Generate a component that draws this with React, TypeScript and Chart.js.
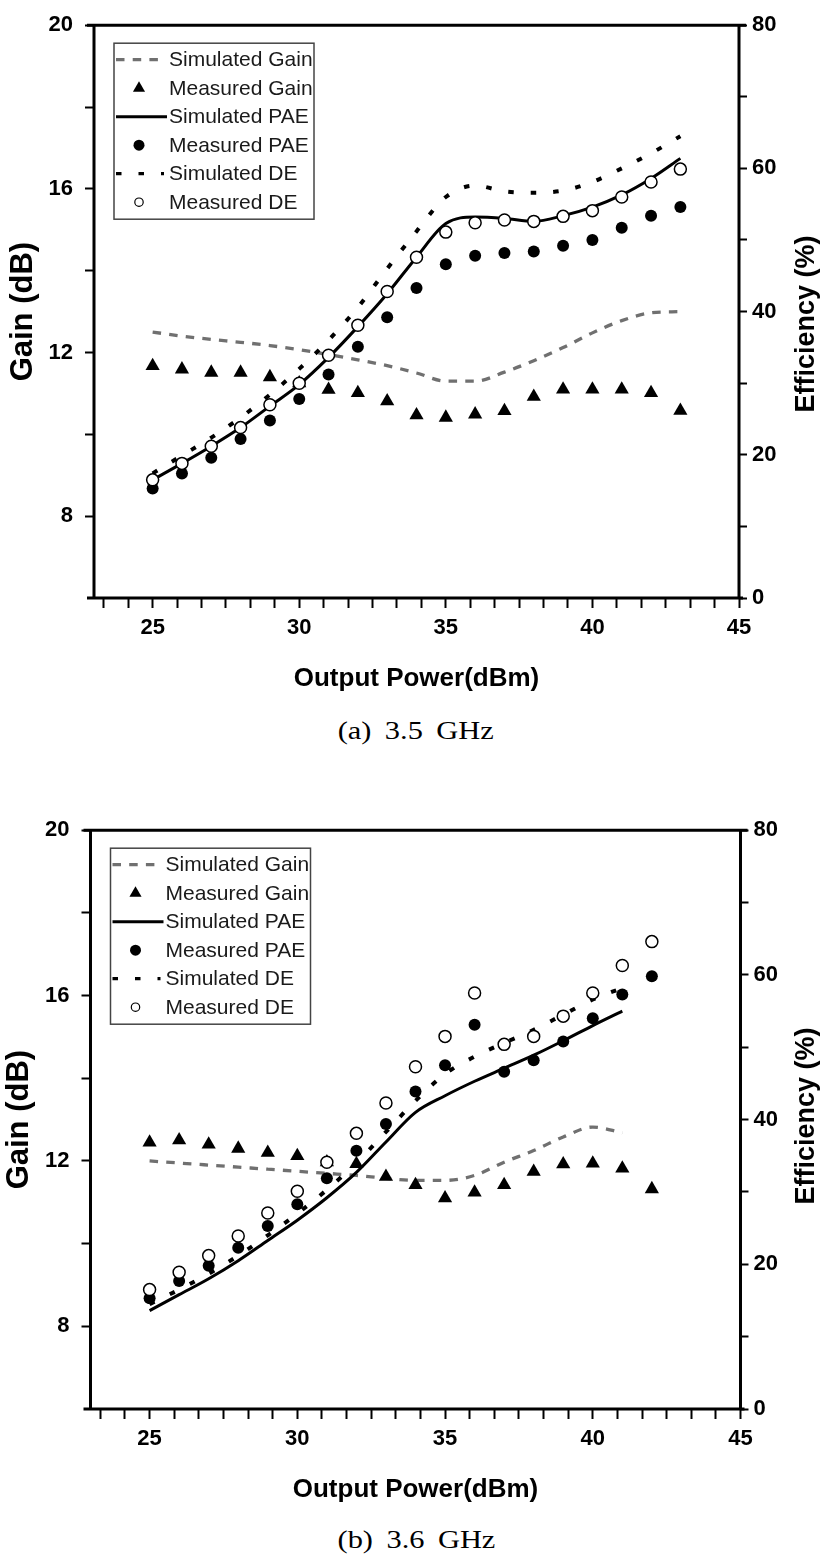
import React, { useEffect, useRef } from 'react';
import { Chart, registerables } from 'chart.js';

Chart.register(...registerables);

// ---------- (a) 3.5 GHz ----------
const powerA = [25, 26, 27, 28, 29, 30, 31, 32, 33, 34, 35, 36, 37, 38, 39, 40, 41, 42, 43];
const simGainA = [12.5, 12.4, 12.32, 12.25, 12.17, 12.07, 11.95, 11.82, 11.68, 11.5, 11.3, 11.3, 11.52, 11.8, 12.12, 12.48, 12.78, 12.97, 13.0];
const measGainA = [11.67, 11.59, 11.51, 11.51, 11.4, 11.25, 11.09, 11.01, 10.81, 10.47, 10.41, 10.49, 10.57, 10.92, 11.1, 11.1, 11.1, 11.01, 10.58];
const simPaeA = [16.5, 18.8, 21.2, 23.8, 26.8, 29.8, 33.6, 37.9, 42.5, 47.6, 52.3, 53.2, 53.0, 52.6, 53.4, 54.6, 56.3, 58.6, 61.4];
const measPaeA = [15.3, 17.4, 19.6, 22.2, 24.8, 27.8, 31.2, 35.1, 39.2, 43.3, 46.6, 47.8, 48.2, 48.4, 49.2, 50.0, 51.7, 53.4, 54.6];
const simDeA = [17.4, 19.9, 22.4, 25.2, 28.4, 32.0, 36.0, 40.6, 46.0, 51.2, 56.0, 57.6, 56.8, 56.6, 56.9, 58.1, 60.0, 62.1, 64.5];
const measDeA = [16.5, 18.8, 21.2, 23.8, 27.0, 30.0, 33.9, 38.1, 42.8, 47.6, 51.1, 52.4, 52.8, 52.6, 53.3, 54.1, 56.0, 58.1, 59.9];

// ---------- (b) 3.6 GHz ----------
const powerB = [25, 26, 27, 28, 29, 30, 31, 32, 33, 34, 35, 36, 37, 38, 39, 40, 41, 42];
const simPowerB = [25, 26, 27, 28, 29, 30, 31, 32, 33, 34, 35, 36, 37, 38, 39, 40, 41];
const simGainB = [12.0, 11.95, 11.9, 11.85, 11.8, 11.75, 11.7, 11.65, 11.58, 11.53, 11.53, 11.65, 11.97, 12.25, 12.58, 12.82, 12.68];
const measGainB = [12.45, 12.5, 12.4, 12.3, 12.2, 12.12, 11.97, 11.93, 11.62, 11.42, 11.1, 11.24, 11.42, 11.74, 11.92, 11.94, 11.82, 11.32];
const simPaeB = [13.6, 15.8, 18.0, 20.5, 23.3, 26.1, 29.2, 32.7, 36.9, 41.0, 43.3, 45.3, 47.1, 48.9, 50.9, 53.0, 55.0];
const measPaeB = [15.3, 17.7, 19.8, 22.3, 25.3, 28.3, 31.9, 35.7, 39.4, 43.9, 47.5, 53.1, 46.6, 48.2, 50.8, 54.0, 57.3, 59.8];
const simDeB = [14.5, 16.5, 18.7, 21.2, 24.0, 27.0, 30.3, 34.0, 38.3, 42.6, 46.3, 48.7, 50.6, 52.4, 54.5, 56.6, 58.2];
const measDeB = [16.5, 18.9, 21.2, 23.9, 27.1, 30.1, 34.1, 38.1, 42.3, 47.3, 51.5, 57.5, 50.4, 51.5, 54.3, 57.5, 61.3, 64.6];

// ---------- labels / ticks ----------
const seriesLabels = ['Simulated Gain', 'Measured Gain', 'Simulated PAE', 'Measured PAE', 'Simulated DE', 'Measured DE'];
const xMajorTicks = [25, 30, 35, 40, 45];
const xMinorPerMajor = 5;
const gainTicks = [8, 10, 12, 14, 16, 18, 20];
const gainLabels = [8, 12, 16, 20];
const effTicks = [0, 10, 20, 30, 40, 50, 60, 70, 80];
const effLabels = [0, 20, 40, 60, 80];

const SANS = "'Liberation Sans', Arial, Helvetica, sans-serif";
const SERIF = "'Liberation Serif', 'Times New Roman', serif";
const GRAY = '#707070';
const W = 827;

const xTickValues: number[] = (() => {
  const step = 5 / (xMinorPerMajor + 1);
  const out: number[] = [];
  for (let k = -2; k <= 24; k++) out.push(xMajorTicks[0] + k * step);
  return out;
})();

const pts = (xs: number[], ys: number[]) => ys.map((y, i) => ({ x: xs[i], y }));

function buildDatasets(power: number[], simPower: number[], sg: number[], mg: number[], sp: number[], mp: number[], sd: number[], md: number[]) {
  return [
    { label: seriesLabels[0], data: pts(simPower, sg), yAxisID: 'y', borderColor: GRAY, borderWidth: 3.3, borderDash: [8.5, 8.2], pointRadius: 0, showLine: true, cubicInterpolationMode: 'monotone', fill: false, order: 5 },
    { label: seriesLabels[1], data: pts(power, mg), yAxisID: 'y', showLine: false, pointStyle: 'triangle', pointRadius: 8.2, backgroundColor: '#000', borderColor: '#000', borderWidth: 0, order: 2 },
    { label: seriesLabels[2], data: pts(simPower, sp), yAxisID: 'y1', borderColor: '#000', borderWidth: 3, pointRadius: 0, showLine: true, cubicInterpolationMode: 'monotone', fill: false, order: 3 },
    { label: seriesLabels[3], data: pts(power, mp), yAxisID: 'y1', showLine: false, pointStyle: 'circle', pointRadius: 6, backgroundColor: '#000', borderColor: '#000', borderWidth: 0, order: 1 },
    { label: seriesLabels[4], data: pts(simPower, sd), yAxisID: 'y1', borderColor: '#000', borderWidth: 4, borderDash: [5.5, 17], pointRadius: 0, showLine: true, cubicInterpolationMode: 'monotone', fill: false, order: 4 },
    { label: seriesLabels[5], data: pts(power, md), yAxisID: 'y1', showLine: false, pointStyle: 'circle', pointRadius: 6, backgroundColor: '#fff', borderColor: '#000', borderWidth: 1.5, order: 0 },
  ];
}

type Area = { left: number; right: number; top: number; bottom: number };
type PanelProps = {
  top: number;
  height: number;
  area: Area;
  gainTitlePad: number;
  effTitleX: number;
  effTitleY: number;
  datasets: any[];
};

function Panel({ top, height, area, gainTitlePad, effTitleX, effTitleY, datasets }: PanelProps) {
  const ref = useRef<HTMLCanvasElement>(null);
  useEffect(() => {
    const canvas = ref.current;
    if (!canvas) return;
    const tickFont = { family: SANS, size: 22, weight: 'bold' as const };

    const overlay = {
      id: 'overlay',
      afterDraw(chart: any) {
        const ctx = chart.ctx as CanvasRenderingContext2D;
        const ca = chart.chartArea;
        // frame
        ctx.save();
        ctx.strokeStyle = '#000';
        ctx.lineWidth = 3;
        ctx.setLineDash([]);
        ctx.beginPath();
        ctx.moveTo(ca.left - 7, ca.top);
        ctx.lineTo(ca.right + 7, ca.top);
        ctx.moveTo(ca.left - 7, ca.bottom);
        ctx.lineTo(ca.right + 4, ca.bottom);
        ctx.moveTo(ca.left, ca.top);
        ctx.lineTo(ca.left, ca.bottom);
        ctx.moveTo(ca.right, ca.top);
        ctx.lineTo(ca.right, ca.bottom);
        ctx.stroke();

        // legend
        const bx = ca.left + 20;
        const by = ca.top + 18;
        const bw = 200;
        const bh = 176;
        ctx.fillStyle = '#fff';
        ctx.fillRect(bx, by, bw, bh);
        ctx.strokeStyle = '#444';
        ctx.lineWidth = 1.5;
        ctx.strokeRect(bx, by, bw, bh);
        const dsets = chart.data.datasets;
        dsets.forEach((ds: any, i: number) => {
          const ry = by + 16.5 + i * 28.5;
          const cx = bx + 25;
          ctx.save();
          if (ds.showLine) {
            ctx.strokeStyle = ds.borderColor;
            ctx.lineWidth = Math.min(ds.borderWidth, 3.3);
            ctx.setLineDash(ds.borderDash || []);
            ctx.beginPath();
            ctx.moveTo(bx + 2, ry);
            ctx.lineTo(bx + (ds.borderDash ? 50 : 53), ry);
            ctx.stroke();
          } else if (ds.pointStyle === 'triangle') {
            const r = 7;
            ctx.fillStyle = ds.backgroundColor;
            ctx.beginPath();
            ctx.moveTo(cx, ry - r);
            ctx.lineTo(cx + r * 0.866, ry + r * 0.5);
            ctx.lineTo(cx - r * 0.866, ry + r * 0.5);
            ctx.closePath();
            ctx.fill();
          } else {
            const filled = ds.backgroundColor === '#000';
            ctx.beginPath();
            ctx.arc(cx, ry, filled ? 5.5 : 4.2, 0, Math.PI * 2);
            if (filled) {
              ctx.fillStyle = '#000';
              ctx.fill();
            } else {
              ctx.fillStyle = '#fff';
              ctx.fill();
              ctx.strokeStyle = '#000';
              ctx.lineWidth = 1.2;
              ctx.stroke();
            }
          }
          ctx.restore();
          ctx.fillStyle = '#1a1a1a';
          ctx.font = `21px ${SANS}`;
          ctx.textAlign = 'left';
          ctx.textBaseline = 'middle';
          ctx.fillText(ds.label, bx + 55, ry + 1);
        });

        // right axis title
        ctx.translate(effTitleX, effTitleY);
        ctx.rotate(-Math.PI / 2);
        ctx.fillStyle = '#000';
        ctx.font = `bold 27px ${SANS}`;
        ctx.textAlign = 'center';
        ctx.textBaseline = 'middle';
        ctx.fillText('Efficiency (%)', 0, 0);
        ctx.restore();
      },
    };

    const isMajorX = (v: number) => xMajorTicks.some((m) => Math.abs(m - v) < 1e-6);

    const chart = new Chart(canvas, {
      type: 'line',
      data: { datasets: datasets as any },
      options: {
        animation: false,
        responsive: false,
        maintainAspectRatio: false,
        events: [],
        layout: { padding: { top: area.top, left: 0, right: 0, bottom: 0 } },
        plugins: { legend: { display: false }, tooltip: { enabled: false }, title: { display: false } },
        scales: {
          x: {
            type: 'linear',
            min: 23,
            max: 45,
            afterBuildTicks: (s: any) => {
              s.ticks = xTickValues.map((v) => ({ value: v }));
            },
            afterFit: (s: any) => {
              s.height = height - area.bottom;
            },
            ticks: {
              autoSkip: false,
              maxRotation: 0,
              minRotation: 0,
              padding: 7,
              color: '#000',
              font: tickFont,
              callback: (v: any) => (isMajorX(Number(v)) ? String(Math.round(Number(v))) : ''),
            },
            grid: { display: true, drawOnChartArea: false, drawTicks: true, tickLength: 10, tickWidth: 2, tickColor: '#000', color: '#000' },
            border: { display: false },
            title: {
              display: true,
              text: 'Output Power(dBm)',
              color: '#000',
              font: { family: SANS, size: 26, weight: 'bold' },
              padding: { top: 0, bottom: 4 },
            },
          },
          y: {
            type: 'linear',
            position: 'left',
            min: 6,
            max: 20,
            afterBuildTicks: (s: any) => {
              s.ticks = gainTicks.map((v) => ({ value: v }));
            },
            afterFit: (s: any) => {
              s.width = area.left;
            },
            ticks: {
              autoSkip: false,
              padding: 12,
              color: '#000',
              font: tickFont,
              callback: (v: any) => (gainLabels.includes(Number(v)) ? String(v) : ''),
            },
            grid: { display: true, drawOnChartArea: false, drawTicks: true, tickLength: 9, tickWidth: 2, tickColor: '#000', color: '#000' },
            border: { display: false },
            title: {
              display: true,
              text: 'Gain (dB)',
              color: '#000',
              font: { family: SANS, size: 31, weight: 'bold' },
              padding: { top: gainTitlePad, bottom: 0 },
            },
          },
          y1: {
            type: 'linear',
            position: 'right',
            min: 0,
            max: 80,
            afterBuildTicks: (s: any) => {
              s.ticks = effTicks.map((v) => ({ value: v }));
            },
            afterFit: (s: any) => {
              s.width = W - area.right;
            },
            ticks: {
              autoSkip: false,
              padding: 5,
              color: '#000',
              font: tickFont,
              callback: (v: any) => (effLabels.includes(Number(v)) ? String(v) : ''),
            },
            grid: { display: true, drawOnChartArea: false, drawTicks: true, tickLength: 8, tickWidth: 2, tickColor: '#000', color: '#000' },
            border: { display: false },
            title: { display: false },
          },
        },
      } as any,
      plugins: [overlay],
    });
    return () => chart.destroy();
  }, []);
  return (
    <canvas
      ref={ref}
      width={W}
      height={height}
      style={{ position: 'absolute', left: 0, top, width: W, height }}
    />
  );
}

function Caption({ text, centerY }: { text: string; centerY: number }) {
  return (
    <div
      style={{
        position: 'absolute',
        left: 216,
        width: 400,
        top: centerY - 15,
        height: 30,
        lineHeight: '30px',
        textAlign: 'center',
        fontFamily: SERIF,
        fontSize: 26,
        color: '#000',
      }}
    >
      <span style={{ display: 'inline-block', transform: 'scaleX(1.17)', whiteSpace: 'pre', wordSpacing: '5px' }}>{text}</span>
    </div>
  );
}

export default function App() {
  const dsA = buildDatasets(powerA, powerA, simGainA, measGainA, simPaeA, measPaeA, simDeA, measDeA);
  const dsB = buildDatasets(powerB, simPowerB, simGainB, measGainB, simPaeB, measPaeB, simDeB, measDeB);
  return (
    <div style={{ position: 'absolute', left: 0, top: 0, width: W, height: 1562, background: '#fff', overflow: 'hidden' }}>
      <Panel
        top={0}
        height={698}
        area={{ left: 94, right: 739, top: 17, bottom: 598 }}
        gainTitlePad={5}
        effTitleX={807}
        effTitleY={324}
        datasets={dsA}
      />
      <Caption text="(a) 3.5 GHz" centerY={731} />
      <Panel
        top={805}
        height={704}
        area={{ left: 90.5, right: 740.5, top: 17, bottom: 604 }}
        gainTitlePad={1}
        effTitleX={807}
        effTitleY={311}
        datasets={dsB}
      />
      <Caption text="(b) 3.6 GHz" centerY={1540} />
    </div>
  );
}
